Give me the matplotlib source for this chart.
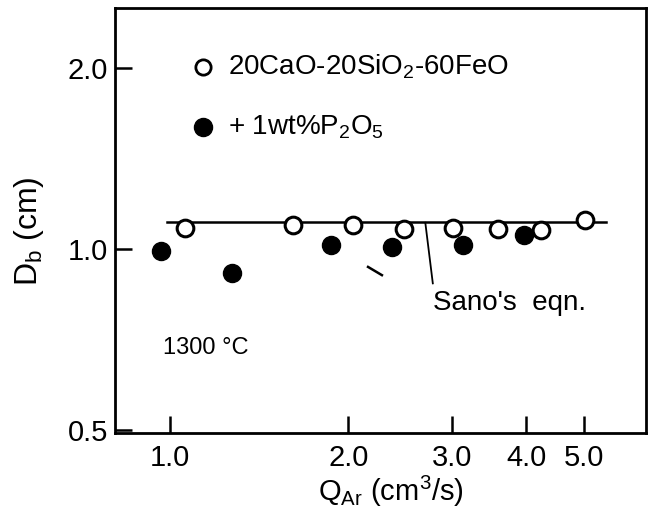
#!/usr/bin/env python3

import matplotlib
matplotlib.use('Agg')
import matplotlib.pyplot as plt
from matplotlib.ticker import FixedLocator, FixedFormatter, NullLocator


# -------------------- #
# -- DATA            -- #
# -------------------- #

q_open  = [1.06, 1.61, 2.04, 2.48, 3.01, 3.58, 4.23, 5.02]
db_open = [1.085, 1.095, 1.095, 1.079, 1.085, 1.079, 1.076, 1.116]

q_fill  = [0.963, 1.27, 1.87, 2.37, 3.13, 3.97]
db_fill = [0.991, 0.910, 1.013, 1.006, 1.013, 1.056]

sano_q  = [0.987, 5.45]
sano_db = [1.109, 1.109]

x_ticks = [1.0, 2.0, 3.0, 4.0, 5.0]
y_ticks = [0.5, 1.0, 2.0]


# -------------------- #
# -- FIGURE          -- #
# -------------------- #

plt.rcParams['font.family'] = ['Liberation Sans', 'DejaVu Sans']
plt.rcParams['mathtext.fontset'] = 'custom'
plt.rcParams['mathtext.rm'] = 'Liberation Sans'
plt.rcParams['mathtext.it'] = 'Liberation Sans'
plt.rcParams['mathtext.bf'] = 'Liberation Sans'

fig = plt.figure(figsize=(6.55, 5.11), dpi=100)
ax = fig.add_axes([0.176, 0.153, 0.811, 0.832])

ax.set_xscale('log')
ax.set_yscale('log')
ax.set_xlim(0.807, 6.39)
ax.set_ylim(0.494, 2.52)

ax.plot(sano_q, sano_db, color='black', linewidth=1.8, zorder=2)

ax.plot(
    q_open, db_open,
    linestyle       = 'none',
    marker          = 'o',
    markersize      = 12,
    markerfacecolor = 'white',
    markeredgecolor = 'black',
    markeredgewidth = 2.2,
    zorder          = 3,
)
ax.plot(
    q_fill, db_fill,
    linestyle  = 'none',
    marker     = 'o',
    markersize = 13,
    color      = 'black',
    zorder     = 3,
)

# legend written straight into the axes like the original
ax.plot([1.135], [2.01], linestyle='none', marker='o', markersize=11,
        markerfacecolor='white', markeredgecolor='black', markeredgewidth=2)
ax.plot([1.135], [1.594], linestyle='none', marker='o', markersize=13,
        color='black')
ax.text(1.25, 2.01, r'20CaO-20SiO$_2$-60FeO', fontsize=20, va='center')
ax.text(1.25, 1.594, r'+ 1wt%P$_2$O$_5$', fontsize=20, va='center')

ax.text(0.971, 0.685, '1300 °C', fontsize=17, va='center')

ax.plot([2.70, 2.78], [1.105, 0.876], color='black', linewidth=1.3)
ax.text(2.78, 0.812, "Sano's  eqn.", fontsize=20, va='center')

# small stray mark from the original print
ax.plot([2.16, 2.28], [0.933, 0.904], color='black', linewidth=1.8)

ax.xaxis.set_major_locator(FixedLocator(x_ticks))
ax.xaxis.set_major_formatter(FixedFormatter([f'{v:.1f}' for v in x_ticks]))
ax.xaxis.set_minor_locator(NullLocator())
ax.yaxis.set_major_locator(FixedLocator(y_ticks))
ax.yaxis.set_major_formatter(FixedFormatter([f'{v:.1f}' for v in y_ticks]))
ax.yaxis.set_minor_locator(NullLocator())

ax.tick_params(
    direction = 'in',
    length    = 12,
    width     = 1.8,
    labelsize = 21,
)
ax.tick_params(axis='x', pad=8)
ax.tick_params(axis='y', pad=5)

for spine in ax.spines.values():
    spine.set_linewidth(2)

ax.set_xlabel(r'Q$_{\rm Ar}$ (cm$^3$/s)', fontsize=21, va='bottom')
ax.set_ylabel(r'D$_{\rm b}$ (cm)', fontsize=23)
ax.xaxis.set_label_coords(0.518, -0.179)
ax.yaxis.set_label_coords(-0.13, 0.475)

plt.savefig('out.png', dpi=100, facecolor='white')
plt.close()
